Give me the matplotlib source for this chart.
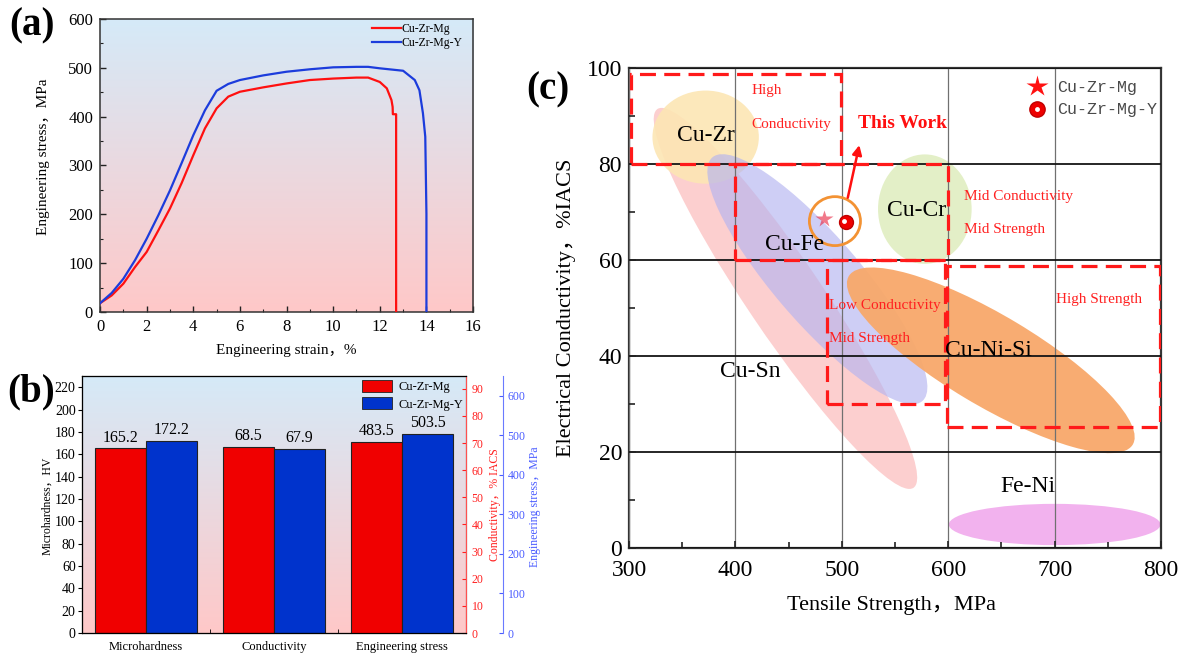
import numpy as np
import matplotlib
matplotlib.use('Agg')
import matplotlib.pyplot as plt
from matplotlib.patches import Ellipse, Rectangle, Patch
from matplotlib.lines import Line2D
from matplotlib.transforms import Affine2D, offset_copy
from matplotlib.ticker import MultipleLocator, FixedLocator

plt.rcParams['font.family'] = ['Liberation Serif', 'Noto Sans CJK SC']

# ---------------- data (a) tensile curves ----------------
strain_mg = [0, 0.5, 1.0, 1.5, 2.0, 2.5, 3.0, 3.5, 4.0, 4.5, 5.0, 5.5, 6.0, 7.0, 8.0,
             9.0, 10.0, 11.0, 11.5, 12.0, 12.3, 12.5, 12.55, 12.56, 12.7, 12.7]
stress_mg = [18, 34, 58, 92, 123, 167, 212, 264, 321, 376, 417, 441, 451, 460, 468,
             475, 478, 480, 480, 471, 458, 434, 420, 405, 405, 0]
strain_y = [0, 0.5, 1.0, 1.5, 2.0, 2.5, 3.0, 3.5, 4.0, 4.5, 5.0, 5.5, 6.0, 7.0, 8.0,
            9.0, 10.0, 11.0, 11.5, 12.0, 13.0, 13.5, 13.7, 13.85, 13.95, 14.0, 14.0]
stress_y = [18, 39, 68, 106, 150, 198, 249, 305, 362, 413, 453, 467, 475, 484.5, 492,
            497, 501, 502, 502, 499, 494, 475, 454, 407, 359, 201, 0]
series_names = ['Cu-Zr-Mg', 'Cu-Zr-Mg-Y']

# ---------------- data (b) bars ----------------
categories = ['Microhardness', 'Conductivity', 'Engineering stress']
vals_mg = [165.2, 68.5, 483.5]
vals_y = [172.2, 67.9, 503.5]

# ---------------- data (c) property map ----------------
alloy_names = ['Cu-Sn', 'Cu-Zr', 'Cu-Fe', 'Cu-Cr', 'Cu-Ni-Si', 'Fe-Ni']
ell_center = [(447, 52.0), (372, 85.6), (477, 56.0), (578, 70.6), (640, 39.1), (700, 4.9)]
ell_major = [(120, -39.5), (50, 0), (98, -25.5), (44, 0), (133, -17.7), (99.5, 0)]
ell_minor = [(30.5, 3.9), (0, 9.7), (33, 5.3), (0, 11.4), (24.5, 7.8), (0, 4.3)]
ell_colors = ['#fccaca', '#fce6b4', '#b4b4f0', '#e2efc4', '#f8a86a', '#f2b2ee']
ell_alpha = [0.9, 0.9, 0.65, 0.95, 0.95, 1.0]
label_pos = [(414, 36.7), (372, 85.9), (456, 63.3), (570, 70.3), (638, 41.2), (675, 12.9)]

region_boxes = [(302, 80, 499, 98.8), (400, 60, 600, 80), (486, 30, 597, 60), (599, 25.2, 799, 58.8)]
region_texts = ['High', 'Conductivity', 'Mid Conductivity', 'Mid Strength',
                'Low Conductivity', 'Mid Strength', 'High Strength']
region_text_pos = [(415, 95.3), (415, 88.3), (615, 73.3), (615, 66.4),
                   (488, 50.6), (488, 43.6), (701, 51.8)]

work_strength = [483.5, 503.5]
work_conductivity = [68.5, 67.9]

fig = plt.figure(figsize=(11.88, 6.57), dpi=100)


def add_bg(ax):
    top = np.array([213, 234, 248]) / 255
    bot = np.array([255, 200, 200]) / 255
    t = np.linspace(0, 1, 256)[:, None]
    img = top * (1 - t) + bot * t
    ax.imshow(img[:, None, :], extent=[0, 1, 0, 1], transform=ax.transAxes,
              aspect='auto', zorder=0, origin='upper')


# ================= (a) =================
axa = fig.add_axes([0.0842, 0.5251, 0.3140, 0.4460])
add_bg(axa)
axa.plot(strain_mg, stress_mg, color='#ff1010', lw=1.6, label=series_names[0], zorder=3)
axa.plot(strain_y, stress_y, color='#1c3cdc', lw=1.6, label=series_names[1], zorder=3)
axa.set_xlim(0, 16)
axa.set_ylim(0, 600)
axa.xaxis.set_major_locator(MultipleLocator(2))
axa.xaxis.set_minor_locator(MultipleLocator(1))
axa.yaxis.set_major_locator(MultipleLocator(100))
axa.yaxis.set_minor_locator(MultipleLocator(50))
axa.tick_params(which='both', direction='in', labelsize=12, color='#222')
axa.tick_params(which='major', length=4, width=1, pad=5)
axa.tick_params(which='minor', length=2.5, width=0.8)
for s in axa.spines.values():
    s.set_linewidth(1.1)
    s.set_color('#333')
axa.set_xlabel('Engineering strain，%', fontsize=11)
axa.set_ylabel('Engineering stress，MPa', fontsize=11)
axa.xaxis.set_label_coords(0.5, -0.11)
axa.yaxis.set_label_coords(-0.135, 0.53)
axa.legend(loc='upper left', bbox_to_anchor=(0.73, 0.985), frameon=False, fontsize=8.5,
           handlelength=2.4, handletextpad=0.1, borderaxespad=0, borderpad=0,
           labelspacing=0.15)
fig.text(0.027, 0.961, '(a)', fontsize=28, fontweight='bold', ha='center', va='center')

# ================= (b) =================
axb = fig.add_axes([0.0690, 0.0365, 0.3232, 0.3912])
add_bg(axb)
axr = axb.twinx()
axbl = axb.twinx()
axbl.spines['right'].set_position(('outward', 27))
bar_axes = [axb, axr, axbl]
x = np.arange(len(categories))
w = 0.4
for i, axx in enumerate(bar_axes):
    b1 = axx.bar(x[i] - w / 2, vals_mg[i], w, color='#f00000', edgecolor='#222', lw=0.8, zorder=2)
    b2 = axx.bar(x[i] + w / 2, vals_y[i], w, color='#0033cc', edgecolor='#222', lw=0.8, zorder=2)
    for bb, v in ((b1[0], vals_mg[i]), (b2[0], vals_y[i])):
        axx.annotate(f'{v:.1f}', (bb.get_x() + bb.get_width() / 2, v), xytext=(0, 2),
                     textcoords='offset points', ha='center', va='bottom', fontsize=11.5)
axb.set_xlim(-0.5, 2.5)
axb.set_ylim(0, 230)
axr.set_ylim(0, 94.7)
axbl.set_ylim(0, 650)
axb.set_xticks(x)
axb.set_xticklabels(categories, fontsize=9)
axb.xaxis.set_minor_locator(FixedLocator([0.5, 1.5]))
axb.tick_params(axis='x', which='major', length=0, pad=6)
axb.tick_params(axis='x', which='minor', direction='in', length=3)
axb.yaxis.set_major_locator(MultipleLocator(20))
axb.tick_params(axis='y', direction='out', length=3, labelsize=10, pad=1.5)
axr.yaxis.set_major_locator(MultipleLocator(10))
axr.tick_params(axis='y', direction='in', length=3, labelsize=8.5, colors='#ff2020', pad=4)
axbl.yaxis.set_major_locator(MultipleLocator(100))
axbl.tick_params(axis='y', direction='in', length=3, labelsize=8.5, colors='#4a5cff', pad=3)
axr.spines['right'].set_color('#ff5050')
axbl.spines['right'].set_color('#6a7aff')
for s in ['top', 'left', 'bottom']:
    axb.spines[s].set_color('#555')
axb.set_ylabel('Microhardness，HV', fontsize=8.5)
axb.yaxis.set_label_coords(-0.076, 0.494)
axr.set_ylabel('Conductivity，% IACS', fontsize=8.5, color='#ff2020')
axr.yaxis.set_label_coords(1.06, 0.50)
axbl.set_ylabel('Engineering stress，MPa', fontsize=8.5, color='#4a5cff')
axbl.yaxis.set_label_coords(1.165, 0.49)
axbl.legend(handles=[Patch(facecolor='#f00000', edgecolor='#222', lw=0.6),
                     Patch(facecolor='#0033cc', edgecolor='#222', lw=0.6)],
            labels=series_names, loc='upper left', bbox_to_anchor=(0.73, 0.985),
            frameon=False, fontsize=9, handlelength=2.4, handleheight=1.1,
            handletextpad=0.5, borderaxespad=0, borderpad=0, labelspacing=0.35)
fig.text(0.0265, 0.403, '(b)', fontsize=28, fontweight='bold', ha='center', va='center')

# ================= (c) =================
axc = fig.add_axes([0.5295, 0.1659, 0.4478, 0.7306])
axc.set_xlim(300, 800)
axc.set_ylim(0, 100)
for k in range(len(alloy_names)):
    cx, cy = ell_center[k]
    ux, uy = ell_major[k]
    vx, vy = ell_minor[k]
    M = np.array([[ux, vx, cx], [uy, vy, cy], [0, 0, 1.0]])
    e = Ellipse((0, 0), 2, 2, transform=Affine2D(M) + axc.transData,
                facecolor=ell_colors[k], alpha=ell_alpha[k], edgecolor='none', zorder=1 + 0.01 * k)
    axc.add_patch(e)
    axc.text(label_pos[k][0], label_pos[k][1], alloy_names[k], fontsize=17,
             ha='center', va='center', zorder=5)

for (x0, y0, x1, y1) in region_boxes:
    axc.add_patch(Rectangle((x0, y0), x1 - x0, y1 - y0, fill=False, edgecolor='#ff1a1a',
                            lw=2.3, linestyle=(0, (5, 2.6)), zorder=3))
for t, (tx, ty) in zip(region_texts, region_text_pos):
    axc.text(tx, ty, t, color='#ff2020', fontsize=11, ha='left', va='center', zorder=5)

ring_c = (np.mean(work_strength), np.mean(work_conductivity) - 0.1)
axc.add_patch(Ellipse(ring_c, 48, 10.2, facecolor='none', edgecolor='#f39233', lw=2, zorder=4))
axc.plot(work_strength[0], work_conductivity[0], marker='*', ls='', color='#e8203c',
         alpha=0.6, ms=13, mec='none', zorder=6)
axc.plot(work_strength[1], work_conductivity[1], marker='o', ls='', color='#ee0000',
         ms=10, mec='#c00000', zorder=6)
hl = offset_copy(axc.transData, fig=fig, x=-1.0, y=1.0, units='points')
axc.plot(work_strength[1], work_conductivity[1], marker='o', ls='', color='white',
         ms=3.5, mec='none', transform=hl, zorder=7)
axc.annotate('', xy=(517, 84.5), xytext=(505, 72.4),
             arrowprops=dict(arrowstyle='-|>', color='#ff1010', lw=1.8, mutation_scale=14),
             zorder=6)
axc.text(515, 88.4, 'This Work', color='#ff1010', fontsize=14, fontweight='bold',
         ha='left', va='center', zorder=6)

axc.xaxis.set_major_locator(MultipleLocator(100))
axc.xaxis.set_minor_locator(MultipleLocator(50))
axc.yaxis.set_major_locator(MultipleLocator(20))
axc.yaxis.set_minor_locator(MultipleLocator(10))
axc.set_axisbelow(False)
axc.xaxis.grid(True, color='#707070', lw=0.9)
axc.yaxis.grid(True, color='#151515', lw=1.3)
axc.tick_params(which='both', direction='in', labelsize=17, color='#222')
axc.tick_params(which='major', length=5, width=1.2)
axc.tick_params(axis='x', which='major', pad=8.5)
axc.tick_params(axis='y', which='major', pad=5)
axc.tick_params(which='minor', length=4, width=1.2)
for s in axc.spines.values():
    s.set_linewidth(1.6)
    s.set_color('#333')
axc.set_xlabel('Tensile Strength，MPa', fontsize=16)
axc.set_ylabel('Electrical Conductivity，%IACS', fontsize=16)
axc.xaxis.set_label_coords(0.494, -0.10)
axc.yaxis.set_label_coords(-0.10, 0.5)

star_h = Line2D([], [], marker='*', ls='', color='#ff1010', ms=16, mec='none')
ball_h = (Line2D([], [], marker='o', ls='', color='#ee0000', ms=11, mec='#c00000'),
          Line2D([], [], marker='o', ls='', color='white', ms=3.5, mec='none'))
leg = axc.legend(handles=[star_h, ball_h], labels=series_names, loc='upper left',
                 bbox_to_anchor=(0.752, 0.975), frameon=False,
                 prop={'family': 'Liberation Mono', 'size': 12},
                 handlelength=1.0, handletextpad=0.7, borderaxespad=0, borderpad=0,
                 labelspacing=0.45)
for t in leg.get_texts():
    t.set_color('#4a4a4a')
fig.text(0.461, 0.863, '(c)', fontsize=28, fontweight='bold', ha='center', va='center')

fig.savefig('out.png', dpi=100)
